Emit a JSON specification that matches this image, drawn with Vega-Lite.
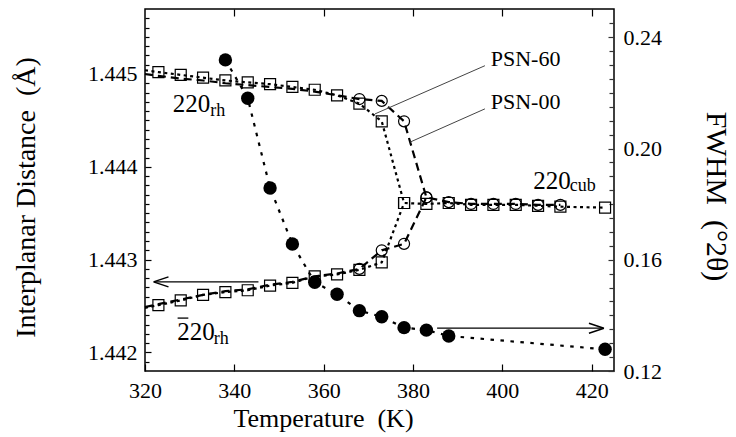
{
  "$schema": "https://vega.github.io/schema/vega-lite/v6.json",
  "width": 469,
  "height": 362,
  "autosize": "none",
  "padding": {"left": 145, "top": 9, "right": 122, "bottom": 66},
  "background": "white",
  "config": {
    "view": {"stroke": "black", "strokeWidth": 1.5},
    "axis": {"labelFont": "Liberation Serif", "titleFont": "Liberation Serif", "labelColor": "black", "titleColor": "black", "titleFontWeight": "normal", "tickColor": "black", "grid": false, "domain": false, "labelFlush": false, "labelOverlap": false},
    "text": {"font": "Liberation Serif", "color": "black"}
  },
  "datasets": {
    "psn60": [
      {"branch": "upper", "T": 320, "d": 1.44504},
      {"branch": "upper", "T": 323, "d": 1.44502},
      {"branch": "upper", "T": 328, "d": 1.44499},
      {"branch": "upper", "T": 333, "d": 1.44496},
      {"branch": "upper", "T": 338, "d": 1.44493},
      {"branch": "upper", "T": 343, "d": 1.44491},
      {"branch": "upper", "T": 348, "d": 1.44489},
      {"branch": "upper", "T": 353, "d": 1.44486},
      {"branch": "upper", "T": 358, "d": 1.44483},
      {"branch": "upper", "T": 363, "d": 1.44477},
      {"branch": "upper", "T": 368, "d": 1.44468},
      {"branch": "upper", "T": 373, "d": 1.44449},
      {"branch": "upper", "T": 378, "d": 1.44361},
      {"branch": "upper", "T": 383, "d": 1.4436},
      {"branch": "upper", "T": 388, "d": 1.44361},
      {"branch": "upper", "T": 393, "d": 1.44359},
      {"branch": "upper", "T": 398, "d": 1.44359},
      {"branch": "upper", "T": 403, "d": 1.44359},
      {"branch": "upper", "T": 408, "d": 1.44358},
      {"branch": "upper", "T": 413, "d": 1.44357},
      {"branch": "upper", "T": 423, "d": 1.44356},
      {"branch": "lower", "T": 320, "d": 1.44248},
      {"branch": "lower", "T": 323, "d": 1.44251},
      {"branch": "lower", "T": 328, "d": 1.44256},
      {"branch": "lower", "T": 333, "d": 1.44262},
      {"branch": "lower", "T": 338, "d": 1.44265},
      {"branch": "lower", "T": 343, "d": 1.44267},
      {"branch": "lower", "T": 348, "d": 1.44272},
      {"branch": "lower", "T": 353, "d": 1.44275},
      {"branch": "lower", "T": 358, "d": 1.44282},
      {"branch": "lower", "T": 363, "d": 1.44284},
      {"branch": "lower", "T": 368, "d": 1.44289},
      {"branch": "lower", "T": 373, "d": 1.44297},
      {"branch": "lower", "T": 378, "d": 1.44361}
    ],
    "psn00": [
      {"branch": "upper", "T": 320, "d": 1.445},
      {"branch": "upper", "T": 323, "d": 1.44498},
      {"branch": "upper", "T": 328, "d": 1.44495},
      {"branch": "upper", "T": 333, "d": 1.44493},
      {"branch": "upper", "T": 338, "d": 1.4449},
      {"branch": "upper", "T": 343, "d": 1.44488},
      {"branch": "upper", "T": 348, "d": 1.44486},
      {"branch": "upper", "T": 353, "d": 1.44484},
      {"branch": "upper", "T": 358, "d": 1.44481},
      {"branch": "upper", "T": 363, "d": 1.44477},
      {"branch": "upper", "T": 368, "d": 1.44473},
      {"branch": "upper", "T": 373, "d": 1.44471},
      {"branch": "upper", "T": 378, "d": 1.44449},
      {"branch": "upper", "T": 383, "d": 1.44367},
      {"branch": "upper", "T": 388, "d": 1.44362},
      {"branch": "upper", "T": 393, "d": 1.4436},
      {"branch": "upper", "T": 398, "d": 1.4436},
      {"branch": "upper", "T": 403, "d": 1.4436},
      {"branch": "upper", "T": 408, "d": 1.44359},
      {"branch": "upper", "T": 413, "d": 1.44359},
      {"branch": "lower", "T": 320, "d": 1.44249},
      {"branch": "lower", "T": 323, "d": 1.44252},
      {"branch": "lower", "T": 328, "d": 1.44257},
      {"branch": "lower", "T": 333, "d": 1.44262},
      {"branch": "lower", "T": 338, "d": 1.44266},
      {"branch": "lower", "T": 343, "d": 1.44268},
      {"branch": "lower", "T": 348, "d": 1.44273},
      {"branch": "lower", "T": 353, "d": 1.44276},
      {"branch": "lower", "T": 358, "d": 1.44282},
      {"branch": "lower", "T": 363, "d": 1.44285},
      {"branch": "lower", "T": 368, "d": 1.4429},
      {"branch": "lower", "T": 373, "d": 1.4431},
      {"branch": "lower", "T": 378, "d": 1.44317},
      {"branch": "lower", "T": 383, "d": 1.44367}
    ],
    "fwhm": [
      {"T": 338, "f": 0.2319},
      {"T": 343, "f": 0.2181},
      {"T": 348, "f": 0.1858},
      {"T": 353, "f": 0.1657},
      {"T": 358, "f": 0.1519},
      {"T": 363, "f": 0.1476},
      {"T": 368, "f": 0.1417},
      {"T": 373, "f": 0.1395},
      {"T": 378, "f": 0.1356},
      {"T": 383, "f": 0.1347},
      {"T": 388, "f": 0.1326},
      {"T": 423, "f": 0.1278}
    ],
    "leaders": [
      {"T": 396.1, "d": 1.445089, "T2": 371.5, "d2": 1.44457},
      {"T": 396.1, "d": 1.444624, "T2": 379.3, "d2": 1.444265}
    ],
    "mainText": [
      {"T": 326.2, "d": 1.444587, "text": "220"},
      {"T": 327.2, "d": 1.442132, "text": "220"},
      {"T": 406.9, "d": 1.443763, "text": "220"}
    ],
    "subText": [
      {"T": 334.6, "d": 1.444552, "text": "rh"},
      {"T": 335.4, "d": 1.442089, "text": "rh"},
      {"T": 415.1, "d": 1.443738, "text": "cub"}
    ],
    "psnText": [
      {"T": 397.4, "d": 1.445089, "text": "PSN-60"},
      {"T": 397.4, "d": 1.444627, "text": "PSN-00"}
    ]
  },
  "resolve": {"scale": {"x": "independent", "y": "independent"}},
  "layer": [
    {
      "data": {"name": "psn60"},
      "mark": {"type": "line", "color": "black", "strokeWidth": 2.2, "strokeDash": [3, 3.5]},
      "encoding": {
        "x": {"field": "T", "type": "quantitative", "scale": {"domain": [320, 425], "nice": false, "zero": false},
          "axis": {"orient": "bottom", "values": [320, 340, 360, 380, 400, 420], "tickSize": -7, "tickWidth": 1.2, "labelPadding": 16, "labelFontSize": 22, "title": "Temperature\u00a0\u00a0(K)", "titleFontSize": 26, "titleX": 178, "titleY": 55, "titleAlign": "center", "titleBaseline": "alphabetic"}},
        "y": {"field": "d", "type": "quantitative", "scale": {"domain": [1.4418, 1.4457], "nice": false, "zero": false},
          "axis": {"orient": "left", "values": [1.442, 1.443, 1.444, 1.445], "format": ".3f",
            "tickSize": -6, "tickWidth": 1.2, "labelPadding": 14, "labelFontSize": 22,
            "title": "Interplanar Distance\u00a0\u00a0(Å)", "titleFontSize": 28, "titleX": -111, "titleY": 188, "titleAngle": -90, "titleAlign": "center", "titleBaseline": "alphabetic"}},
        "detail": {"field": "branch"}
      }
    },
    {
      "data": {"name": "psn00"},
      "mark": {"type": "line", "color": "black", "strokeWidth": 2.2, "strokeDash": [8, 5]},
      "encoding": {
        "x": {"field": "T", "type": "quantitative", "scale": {"domain": [320, 425], "nice": false, "zero": false}, "axis": null},
        "y": {"field": "d", "type": "quantitative", "scale": {"domain": [1.4418, 1.4457], "nice": false, "zero": false},
          "axis": {"orient": "left", "values": [1.4419, 1.4421, 1.4422, 1.4423, 1.4424, 1.4425, 1.4426, 1.4427, 1.4428, 1.4429, 1.4431, 1.4432, 1.4433, 1.4434, 1.4435, 1.4436, 1.4437, 1.4438, 1.4439, 1.4441, 1.4442, 1.4443, 1.4444, 1.4445, 1.4446, 1.4447, 1.4448, 1.4449, 1.4451, 1.4452, 1.4453, 1.4454, 1.4455, 1.4456],
            "labels": false, "tickSize": -4, "tickWidth": 1.2, "title": null}},
        "detail": {"field": "branch"}
      }
    },
    {
      "data": {"name": "psn60"},
      "transform": [{"filter": "datum.T > 321"}],
      "mark": {"type": "point", "shape": "square", "size": 121, "filled": false, "stroke": "black", "strokeWidth": 1.2, "opacity": 1},
      "encoding": {
        "x": {"field": "T", "type": "quantitative", "scale": {"domain": [320, 425], "nice": false, "zero": false}, "axis": null},
        "y": {"field": "d", "type": "quantitative", "scale": {"domain": [1.4418, 1.4457], "nice": false, "zero": false}, "axis": null}
      }
    },
    {
      "data": {"name": "psn00"},
      "transform": [{"filter": "datum.T >= 368"}],
      "mark": {"type": "point", "shape": "circle", "size": 121, "filled": false, "stroke": "black", "strokeWidth": 1.2, "opacity": 1},
      "encoding": {
        "x": {"field": "T", "type": "quantitative", "scale": {"domain": [320, 425], "nice": false, "zero": false}, "axis": null},
        "y": {"field": "d", "type": "quantitative", "scale": {"domain": [1.4418, 1.4457], "nice": false, "zero": false}, "axis": null}
      }
    },
    {
      "data": {"name": "leaders"},
      "mark": {"type": "rule", "color": "#444444", "strokeWidth": 1},
      "encoding": {
        "x": {"field": "T", "type": "quantitative", "scale": {"domain": [320, 425], "nice": false, "zero": false}, "axis": null},
        "y": {"field": "d", "type": "quantitative", "scale": {"domain": [1.4418, 1.4457], "nice": false, "zero": false}, "axis": null},
        "x2": {"field": "T2"},
        "y2": {"field": "d2"}
      }
    },
    {
      "data": {"values": [{"T": 345.4, "T2": 322.2, "d": 1.44276}]},
      "mark": {"type": "rule", "color": "black", "strokeWidth": 1.3},
      "encoding": {
        "x": {"field": "T", "type": "quantitative", "scale": {"domain": [320, 425], "nice": false, "zero": false}, "axis": null},
        "x2": {"field": "T2"},
        "y": {"field": "d", "type": "quantitative", "scale": {"domain": [1.4418, 1.4457], "nice": false, "zero": false}, "axis": null}
      }
    },
    {
      "data": {"values": [{"T": 321.9, "d": 1.44276}]},
      "mark": {"type": "point", "shape": "M0,0L3,-1M0,0L3,1", "size": 100, "filled": false, "stroke": "black", "strokeWidth": 1.5, "opacity": 1},
      "encoding": {
        "x": {"field": "T", "type": "quantitative", "scale": {"domain": [320, 425], "nice": false, "zero": false}, "axis": null},
        "y": {"field": "d", "type": "quantitative", "scale": {"domain": [1.4418, 1.4457], "nice": false, "zero": false}, "axis": null}
      }
    },
    {
      "data": {"values": [{"T": 327.3, "T2": 329.7, "d": 1.44237}]},
      "mark": {"type": "rule", "color": "black", "strokeWidth": 1.3},
      "encoding": {
        "x": {"field": "T", "type": "quantitative", "scale": {"domain": [320, 425], "nice": false, "zero": false}, "axis": null},
        "x2": {"field": "T2"},
        "y": {"field": "d", "type": "quantitative", "scale": {"domain": [1.4418, 1.4457], "nice": false, "zero": false}, "axis": null}
      }
    },
    {
      "data": {"name": "mainText"},
      "mark": {"type": "text", "align": "left", "baseline": "alphabetic", "fontSize": 25},
      "encoding": {
        "x": {"field": "T", "type": "quantitative", "scale": {"domain": [320, 425], "nice": false, "zero": false}, "axis": null},
        "y": {"field": "d", "type": "quantitative", "scale": {"domain": [1.4418, 1.4457], "nice": false, "zero": false}, "axis": null},
        "text": {"field": "text"}
      }
    },
    {
      "data": {"name": "subText"},
      "mark": {"type": "text", "align": "left", "baseline": "alphabetic", "fontSize": 18},
      "encoding": {
        "x": {"field": "T", "type": "quantitative", "scale": {"domain": [320, 425], "nice": false, "zero": false}, "axis": null},
        "y": {"field": "d", "type": "quantitative", "scale": {"domain": [1.4418, 1.4457], "nice": false, "zero": false}, "axis": null},
        "text": {"field": "text"}
      }
    },
    {
      "data": {"name": "psnText"},
      "mark": {"type": "text", "align": "left", "baseline": "alphabetic", "fontSize": 22},
      "encoding": {
        "x": {"field": "T", "type": "quantitative", "scale": {"domain": [320, 425], "nice": false, "zero": false}, "axis": null},
        "y": {"field": "d", "type": "quantitative", "scale": {"domain": [1.4418, 1.4457], "nice": false, "zero": false}, "axis": null},
        "text": {"field": "text"}
      }
    },
    {
      "data": {"name": "fwhm"},
      "mark": {"type": "line", "color": "black", "strokeWidth": 2.2, "strokeDash": [3.5, 6.5]},
      "encoding": {
        "x": {"field": "T", "type": "quantitative", "scale": {"domain": [320, 425], "nice": false, "zero": false},
          "axis": {"orient": "top", "values": [340, 360, 380, 400, 420], "tickSize": -7, "tickWidth": 1.2, "labels": false, "title": null}},
        "y": {"field": "f", "type": "quantitative", "scale": {"domain": [0.12, 0.2502], "nice": false, "zero": false},
          "axis": {"orient": "right", "values": [0.12, 0.16, 0.2, 0.24], "format": ".2f",
            "tickSize": -6, "tickWidth": 1.2, "tickColor": "#333333", "labelPadding": 15, "labelFontSize": 22,
            "title": "FWHM\u00a0\u00a0(°2θ)", "titleFontSize": 30, "titleX": 92, "titleY": 187, "titleAngle": 90, "titleAlign": "center", "titleBaseline": "alphabetic"}}
      }
    },
    {
      "data": {"name": "fwhm"},
      "mark": {"type": "point", "shape": "circle", "size": 180, "filled": true, "color": "black", "opacity": 1},
      "encoding": {
        "x": {"field": "T", "type": "quantitative", "scale": {"domain": [320, 425], "nice": false, "zero": false}, "axis": null},
        "y": {"field": "f", "type": "quantitative", "scale": {"domain": [0.12, 0.2502], "nice": false, "zero": false},
          "axis": {"orient": "right", "values": [0.125, 0.13, 0.135, 0.14, 0.145, 0.15, 0.155, 0.165, 0.17, 0.175, 0.18, 0.185, 0.19, 0.195, 0.205, 0.21, 0.215, 0.22, 0.225, 0.23, 0.235, 0.245],
            "labels": false, "tickSize": -5, "tickWidth": 1.2, "tickColor": "#333333", "title": null}}
      }
    },
    {
      "data": {"values": [{"T": 385.4, "T2": 422.5, "f": 0.1354}]},
      "mark": {"type": "rule", "color": "black", "strokeWidth": 1.3},
      "encoding": {
        "x": {"field": "T", "type": "quantitative", "scale": {"domain": [320, 425], "nice": false, "zero": false}, "axis": null},
        "x2": {"field": "T2"},
        "y": {"field": "f", "type": "quantitative", "scale": {"domain": [0.12, 0.2502], "nice": false, "zero": false}, "axis": null}
      }
    },
    {
      "data": {"values": [{"T": 422.75, "f": 0.1354}]},
      "mark": {"type": "point", "shape": "M0,0L-3,-1M0,0L-3,1", "size": 100, "filled": false, "stroke": "black", "strokeWidth": 1.5, "opacity": 1},
      "encoding": {
        "x": {"field": "T", "type": "quantitative", "scale": {"domain": [320, 425], "nice": false, "zero": false}, "axis": null},
        "y": {"field": "f", "type": "quantitative", "scale": {"domain": [0.12, 0.2502], "nice": false, "zero": false}, "axis": null}
      }
    }
  ]
}
